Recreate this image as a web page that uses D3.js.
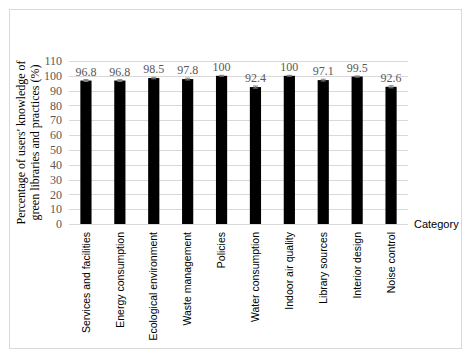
<!DOCTYPE html>
<html><head><meta charset="utf-8">
<script src="https://cdn.jsdelivr.net/npm/d3@7"></script>
<style>body{margin:0;background:#fff}</style>
</head><body><svg id="c" width="472" height="359"></svg>
<script>
const categories = ["Services and facilities","Energy consumption","Ecological environment","Waste management","Policies","Water consumption","Indoor air quality","Library sources","Interior design","Noise control"];
const values = [96.8,96.8,98.5,97.8,100,92.4,100,97.1,99.5,92.6];
const errors = [0.6,0.6,0.5,0.6,0.3,0.7,0.3,0.6,0.4,0.7];
const yTicks = [0,10,20,30,40,50,60,70,80,90,100,110];
const yTitle = ["Percentage of users' knowledge of","green libraries and practices (%)"];
const xTitle = "Category";

const svg = d3.select("#c");
svg.append("rect").attr("x",9.5).attr("y",9.5).attr("width",452).attr("height",339)
  .attr("fill","#fff").attr("stroke","#d9d9d9");

const m = {l:69, r:408, t:61, b:224};
const x = d3.scaleBand().domain(categories).range([m.l,m.r]).paddingInner(0.67).paddingOuter(0.335);
const y = d3.scaleLinear().domain([0,110]).range([m.b,m.t]);
const serif = "'Liberation Serif', 'DejaVu Serif', serif";
const sans = "'Liberation Sans', Arial, sans-serif";

// grid
svg.append("g").selectAll("line").data(yTicks).join("line")
  .attr("x1",m.l).attr("x2",m.r).attr("y1",d=>Math.round(y(d))+0.5).attr("y2",d=>Math.round(y(d))+0.5)
  .attr("stroke","#d9d9d9").attr("stroke-width",1);

// y tick labels
svg.append("g").selectAll("text").data(yTicks).join("text")
  .attr("x",m.l-7).attr("y",d=>y(d)).attr("dy","0.35em").attr("text-anchor","end")
  .attr("font-family",serif).attr("font-size",12).attr("fill","#595959").text(d=>d);

// bars
svg.append("g").selectAll("rect").data(values).join("rect")
  .attr("x",(d,i)=>x(categories[i])).attr("width",x.bandwidth())
  .attr("y",d=>y(d)).attr("height",d=>y(0)-y(d)).attr("fill","#000");

// error bars
const eg = svg.append("g").attr("stroke","#7f7f7f").attr("stroke-width",1);
values.forEach((v,i)=>{
  const cx = x(categories[i])+x.bandwidth()/2;
  eg.append("line").attr("x1",cx).attr("x2",cx).attr("y1",y(v+errors[i])).attr("y2",y(v-errors[i]));
  [v+errors[i],v-errors[i]].forEach(e=>eg.append("line").attr("x1",cx-2.5).attr("x2",cx+2.5).attr("y1",y(e)).attr("y2",y(e)));
});

// data labels
svg.append("g").selectAll("text").data(values).join("text")
  .attr("x",(d,i)=>x(categories[i])+x.bandwidth()/2).attr("y",(d,i)=>y(d+errors[i])-4)
  .attr("text-anchor","middle").attr("font-family",serif).attr("font-size",12).attr("fill","#595959")
  .text(d=>d);

// category labels
svg.append("g").selectAll("text").data(categories).join("text")
  .attr("transform",d=>`translate(${x(d)+x.bandwidth()/2},232) rotate(-90)`)
  .attr("text-anchor","end").attr("dy","0.35em")
  .attr("font-family",sans).attr("font-size",10.5).attr("fill","#000").text(d=>d);

// x title
svg.append("text").attr("x",414).attr("y",224).attr("dy","0.35em")
  .attr("font-family",sans).attr("font-size",11).attr("fill","#000").text(xTitle);

// y title
const yt = svg.append("text").attr("transform",`translate(0,${(m.t+m.b)/2}) rotate(-90)`)
  .attr("text-anchor","middle").attr("font-family",serif).attr("font-size",12).attr("fill","#000");
yt.selectAll("tspan").data(yTitle).join("tspan").attr("x",0).attr("y",(d,i)=>25+i*13.5).text(d=>d);
</script></body></html>
